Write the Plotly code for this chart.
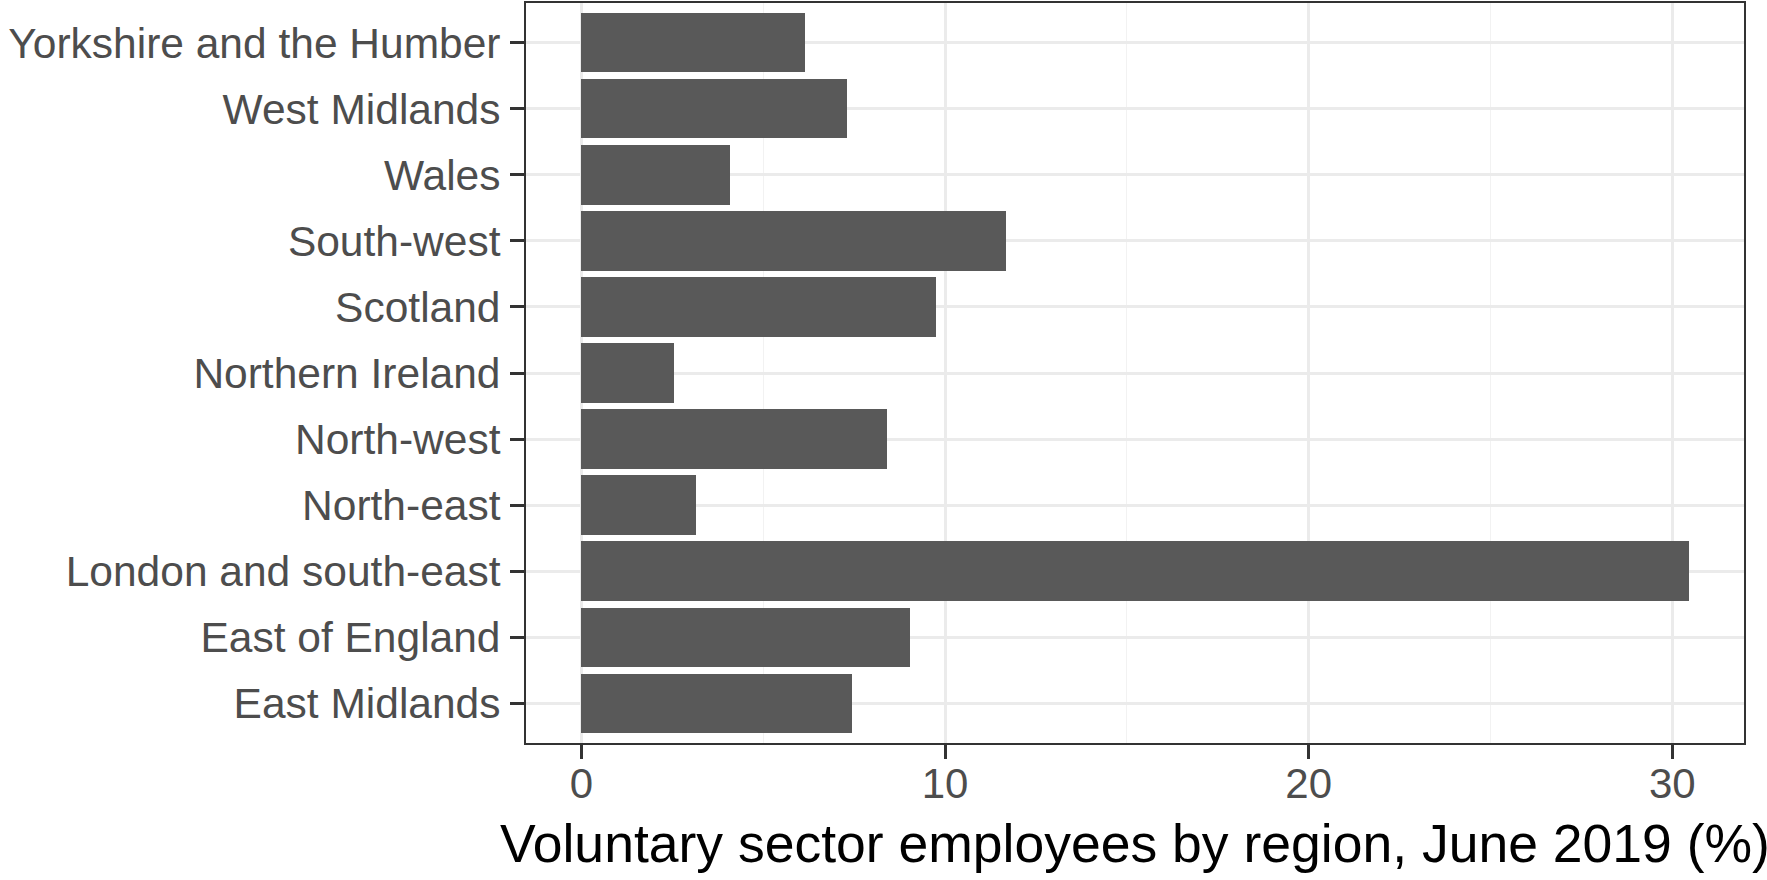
import plotly.graph_objects as go

regions = ["East Midlands", "East of England", "London and south-east", "North-east",
           "North-west", "Northern Ireland", "Scotland", "South-west", "Wales",
           "West Midlands", "Yorkshire and the Humber"]
share_pct = [7.44, 9.03, 30.45, 3.16, 8.40, 2.54, 9.75, 11.67, 4.10, 7.31, 6.16]
x_ticks = [0, 10, 20, 30]
x_title = "Voluntary sector employees by region, June 2019 (%)"

W, H = 1767, 880
ML, MR, MT, MB = 526, 23, 3, 137
mx = max(share_pct)
fig = go.Figure(go.Bar(
    x=share_pct, y=regions, orientation="h", width=0.9,
    marker=dict(color="#595959", line=dict(width=0)),
))

plot_h = H - MT - MB
title_mid_px = 843
fig.update_layout(
    width=W, height=H,
    margin=dict(l=ML, r=MR, t=MT, b=MB, autoexpand=False),
    plot_bgcolor="white", paper_bgcolor="white",
    font=dict(family="Liberation Sans, Arial, sans-serif", color="#4D4D4D", size=42),
    showlegend=False,
    bargap=0,
    annotations=[dict(
        text=x_title, xref="paper", yref="paper", x=0.5,
        y=(H - MB - title_mid_px) / plot_h, xanchor="center", yanchor="middle",
        showarrow=False, borderpad=0, font=dict(size=53.5, color="black"),
    )],
)
fig.update_xaxes(
    range=[-0.05 * mx, 1.05 * mx],
    tickvals=x_ticks, ticktext=[str(v) for v in x_ticks],
    showgrid=True, gridcolor="#EBEBEB", gridwidth=2.7,
    minor=dict(tickvals=[5, 15, 25], showgrid=True, gridcolor="#F2F2F2", gridwidth=1.4, ticklen=0),
    zeroline=False, automargin=False,
    showline=True, mirror=True, linecolor="#333333", linewidth=2,
    ticks="outside", ticklen=14, tickwidth=3, tickcolor="#333333",
    tickfont=dict(size=42, color="#4D4D4D"),
    ticklabelstandoff=-11,
)
fig.update_yaxes(
    type="category", categoryorder="array", categoryarray=regions,
    range=[-0.6, len(regions) - 0.4],
    showgrid=True, gridcolor="#EBEBEB", gridwidth=2.7,
    zeroline=False, automargin=False,
    showline=True, mirror=True, linecolor="#333333", linewidth=2,
    ticks="outside", ticklen=14, tickwidth=3, tickcolor="#333333",
    tickfont=dict(size=42.5, color="#4D4D4D"),
    ticklabelstandoff=1,
)

fig.write_html("out.html", config={"displayModeBar": False},
               post_script="document.body.style.margin='0px';")
